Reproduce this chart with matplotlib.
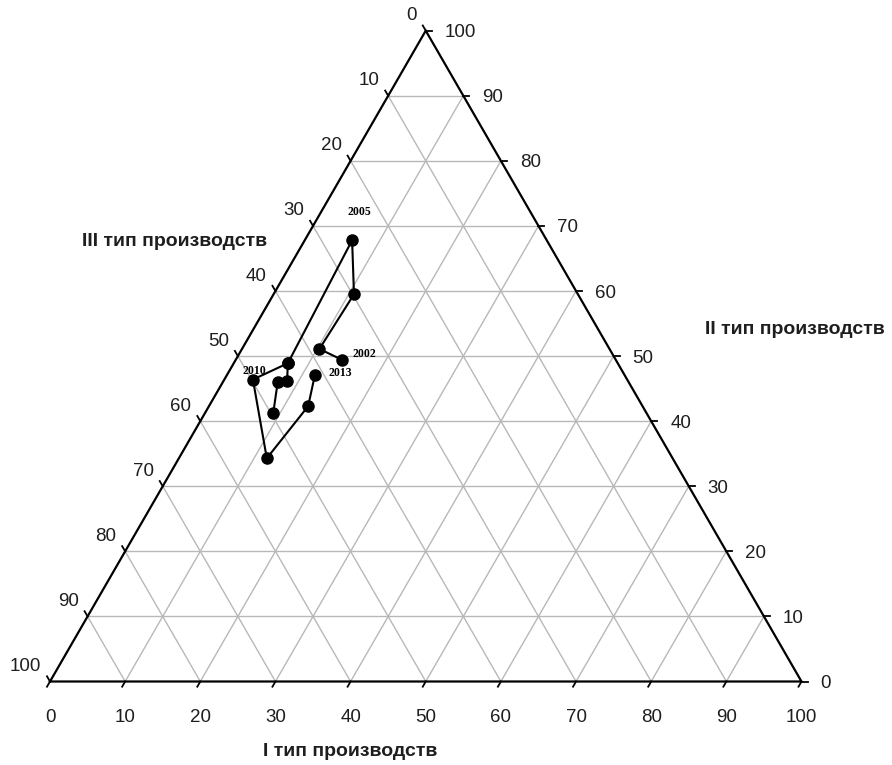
import numpy as np
import matplotlib
matplotlib.use("Agg")
import matplotlib.pyplot as plt

# ---- data (ternary components: I = bottom axis, II = right axis) ----
main_I = [14.2, 10.3, 10.7, 6.3, 7.2, 3.8, 11.7, 13.2, 11.7]
main_II = [49.4, 51.1, 59.5, 67.8, 48.9, 46.4, 34.3, 42.3, 47.1]
branch_I = [7.2, 8.5, 7.3, 9.1]
branch_II = [48.9, 46.1, 46.0, 41.2]

year_labels = ["2002", "2005", "2010", "2013"]
year_idx = [0, 3, 5, 8]  # positions in main path

ticks = list(range(0, 101, 10))
title_I = "I тип производств"
title_II = "II тип производств"
title_III = "III тип производств"

SQ = np.sqrt(3) / 2
PX = 7.515  # pixels per unit


def to_xy(a, b):
    a = np.asarray(a, float)
    b = np.asarray(b, float)
    return a + b / 2.0, b * SQ


W, H = 892, 765
fig = plt.figure(figsize=(W / 100, H / 100), dpi=100)
ax = fig.add_axes([0, 0, 1, 1])
ax.set_xlim(-50 / PX, (W - 50) / PX)
ax.set_ylim(-(H - 681.5) / PX, 681.5 / PX)
ax.axis("off")

font = ["Liberation Sans Narrow", "Liberation Sans", "DejaVu Sans"]
grid_c = "#b8b8b8"

# grid
for k in ticks[1:-1]:
    x, y = to_xy([0, 100 - k], [k, k])
    ax.plot(x, y, color=grid_c, lw=1.0, zorder=1)
    x, y = to_xy([k, k], [0, 100 - k])
    ax.plot(x, y, color=grid_c, lw=1.0, zorder=1)
    c = k
    x, y = to_xy([100 - c, 0], [0, 100 - c])
    ax.plot(x, y, color=grid_c, lw=1.0, zorder=1)

# triangle
x, y = to_xy([0, 100, 0, 0], [0, 0, 100, 0])
ax.plot(x, y, color="black", lw=1.6, zorder=2, solid_joinstyle="miter")

tl = 6 / PX  # tick length
lfs = 13.5
tc = "#1e1e1e"
for k in ticks:
    bx, by = to_xy(k, 0)
    ax.plot([bx, bx - tl * 0.5], [by, by - tl * SQ], color="black", lw=1.3, zorder=2)
    ax.text(bx, by - 36 / PX, str(k), ha="center", va="center",
            fontsize=lfs, family=font, color=tc)
    rx, ry = to_xy(100 - k, k)
    ax.plot([rx, rx + tl], [ry, ry], color="black", lw=1.3, zorder=2)
    ax.text(rx + 19 / PX, ry - 2 / PX, str(k), ha="left", va="center",
            fontsize=lfs, family=font, color=tc)
    h = 100 - k
    lx, ly = to_xy(0, h)
    ax.plot([lx, lx - tl * 0.5], [ly, ly + tl * SQ], color="black", lw=1.3, zorder=2)
    ax.text(lx - 9 / PX, ly + 15 / PX, str(k), ha="right", va="center",
            fontsize=lfs, family=font, color=tc)

# data
mx, my = to_xy(main_I, main_II)
ax.plot(mx, my, color="black", lw=1.5, marker="o", ms=8, zorder=4)
bx_, by_ = to_xy(branch_I, branch_II)
ax.plot(bx_, by_, color="black", lw=1.5, marker="o", ms=8, zorder=4)

offsets = {"2002": (7.5, 4, "left"), "2005": (5, 20.5, "center"),
           "2010": (1, 6, "center"), "2013": (10, 1.5, "left")}
for lab, i in zip(year_labels, year_idx):
    dx, dy, ha = offsets[lab]
    ax.annotate(lab, (mx[i], my[i]), xytext=(dx, dy), textcoords="offset points",
                ha=ha, va="center", fontsize=8.5, fontweight="bold",
                family=["Liberation Serif", "DejaVu Serif"], zorder=5)

# axis titles
tfs = 14
ax.text(350 / PX - 50 / PX, (681.5 - 751) / PX, title_I, ha="center", va="center",
        fontsize=tfs, fontweight="bold", family=font, color=tc)
ax.text(795 / PX - 50 / PX, (681.5 - 330) / PX, title_II, ha="center", va="center",
        fontsize=tfs, fontweight="bold", family=font, color=tc)
ax.text(175 / PX - 50 / PX, (681.5 - 241) / PX, title_III, ha="center", va="center",
        fontsize=tfs, fontweight="bold", family=font, color=tc)

fig.savefig("out.png", dpi=100)
